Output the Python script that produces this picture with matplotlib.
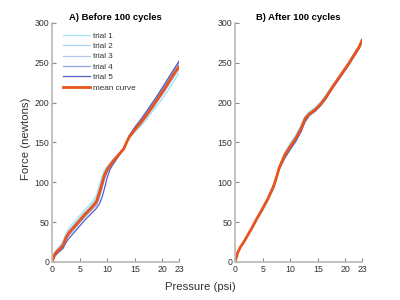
import matplotlib
matplotlib.use("Agg")
import matplotlib.pyplot as plt

plt.rcParams['font.family'] = ['Liberation Sans', 'DejaVu Sans']

# ---------------- data ----------------
pressure_a = [0, 0.5, 1, 1.5, 2, 2.5, 3, 4, 5, 6, 7, 8, 8.5, 9, 9.5, 10, 10.5, 11, 12, 13,
              13.5, 14, 15, 16, 17, 18, 19, 20, 21, 22, 23]
a_trial1 = [0, 12, 17, 21, 26, 35, 42, 50, 58, 66, 73, 83, 95, 106, 115, 120, 124, 128, 135, 142,
            149, 155, 163, 170, 178, 187, 196, 205, 215, 226, 237]
a_trial2 = [0, 11, 16, 19, 23, 32, 39, 47, 55, 63, 70, 79, 90, 102, 113, 119, 123, 127, 135, 143,
            151, 157, 165, 172, 181, 190, 200, 210, 220, 231, 242]
a_trial3 = [0, 10, 14, 17, 21, 30, 36, 44, 52, 60, 67, 75, 85, 98, 110, 117, 122, 126, 134, 143,
            151, 158, 167, 175, 184, 194, 204, 214, 225, 236, 246]
a_trial4 = [0, 9, 13, 16, 19, 27, 33, 41, 49, 57, 64, 71, 79, 91, 104, 113, 120, 125, 134, 143,
            151, 159, 169, 177, 186, 196, 206, 217, 228, 239, 250]
a_trial5 = [0, 7, 11, 14, 17, 24, 29, 37, 45, 53, 60, 67, 72, 80, 92, 106, 116, 122, 132, 142,
            150, 158, 169, 178, 188, 198, 208, 219, 230, 241, 252]
a_mean = [0, 10, 14, 17, 21, 30, 36, 44, 52, 60, 67, 75, 85, 97, 109, 116, 121, 126, 134, 142,
          150, 157, 166, 174, 183, 193, 203, 213, 224, 235, 245]

pressure_b = [0, 0.5, 1, 1.5, 2, 3, 4, 5, 6, 7, 7.5, 8, 9, 10, 11, 12, 12.7, 13.5, 14.5, 15.5,
              16.5, 17.5, 18.5, 19.5, 20.5, 21.5, 22.5, 23]
b_trial1 = [0, 11, 18, 23, 29, 40, 53, 64, 77, 92, 103, 118, 137, 149, 159, 172, 183, 189, 194, 201,
            210, 220, 230, 240, 250, 261, 272, 280]
b_trial2 = [0, 12, 19, 24, 30, 42, 55, 67, 80, 96, 107, 119, 136, 147, 157, 170, 181, 187, 192, 199,
            208, 219, 229, 239, 249, 260, 271, 279]
b_trial3 = [0, 12, 19, 24, 30, 42, 55, 67, 80, 96, 106, 118, 134, 145, 155, 168, 180, 186, 191, 198,
            207, 218, 228, 238, 248, 259, 270, 278]
b_trial4 = [0, 12, 19, 24, 30, 42, 55, 67, 80, 96, 106, 117, 132, 143, 153, 166, 178, 185, 190, 197,
            206, 217, 227, 237, 247, 258, 269, 277]
b_trial5 = [0, 12, 19, 24, 30, 42, 55, 67, 81, 97, 106, 116, 130, 141, 151, 164, 176, 184, 189, 196,
            205, 216, 226, 236, 246, 257, 268, 276]
b_mean = [0, 12, 19, 24, 30, 42, 55, 67, 80, 95, 106, 118, 134, 145, 155, 168, 180, 186, 191, 198,
          207, 218, 228, 238, 248, 259, 270, 278]

trial_labels = ['trial 1', 'trial 2', 'trial 3', 'trial 4', 'trial 5']
mean_label = 'mean curve'
titles = ['A) Before 100 cycles', 'B) After 100 cycles']
xticks = [0, 5, 10, 15, 20, 23]
yticks = [0, 50, 100, 150, 200, 250, 300]

# ---------------- style ----------------
trial_colors = ['#9fe3f5', '#a9d4f2', '#b4c6ee', '#8ea3e0', '#4f5fc4']
mean_color = '#e8541c'
spine_color = '#bdbdbd'
text_color = '#333333'

fig = plt.figure(figsize=(4, 3), dpi=100)
axA = fig.add_axes([0.13, 0.1267, 0.3175, 0.797])
axB = fig.add_axes([0.5875, 0.1267, 0.3175, 0.797])

panels = [
    (axA, pressure_a, [a_trial1, a_trial2, a_trial3, a_trial4, a_trial5], a_mean),
    (axB, pressure_b, [b_trial1, b_trial2, b_trial3, b_trial4, b_trial5], b_mean),
]

for i, (ax, p, trials, mean) in enumerate(panels):
    for t, c, lab in zip(trials, trial_colors, trial_labels):
        ax.plot(p, t, color=c, lw=0.9, label=lab)
    ax.plot(p, mean, color=mean_color, lw=2.0, label=mean_label)
    ax.set_xlim(0, 23)
    ax.set_ylim(0, 300)
    ax.set_xticks(xticks)
    ax.set_yticks(yticks)
    for s in ['top', 'right']:
        ax.spines[s].set_visible(False)
    for s in ['left', 'bottom']:
        ax.spines[s].set_color(spine_color)
        ax.spines[s].set_linewidth(1.3)
    ax.tick_params(direction='in', length=3, width=0.8, color='#888888',
                   labelsize=6.3, labelcolor=text_color, pad=2)
    ax.set_title(titles[i], fontsize=6.8, fontweight='bold', pad=2, color='black')

leg = axA.legend(loc='upper left', frameon=False, fontsize=5.9, handlelength=3.3,
                 labelspacing=0.32, handletextpad=0.37, borderaxespad=0, borderpad=0,
                 bbox_to_anchor=(0.087, 0.962))
for txt in leg.get_texts():
    txt.set_color(text_color)

fig.text(0.5, 0.043, 'Pressure (psi)', ha='center', va='center', fontsize=8.2, color=text_color)
fig.text(0.066, 0.537, 'Force (newtons)', ha='center', va='center', rotation=90,
         fontsize=8.2, color=text_color)

fig.savefig('out.png', dpi=100)
